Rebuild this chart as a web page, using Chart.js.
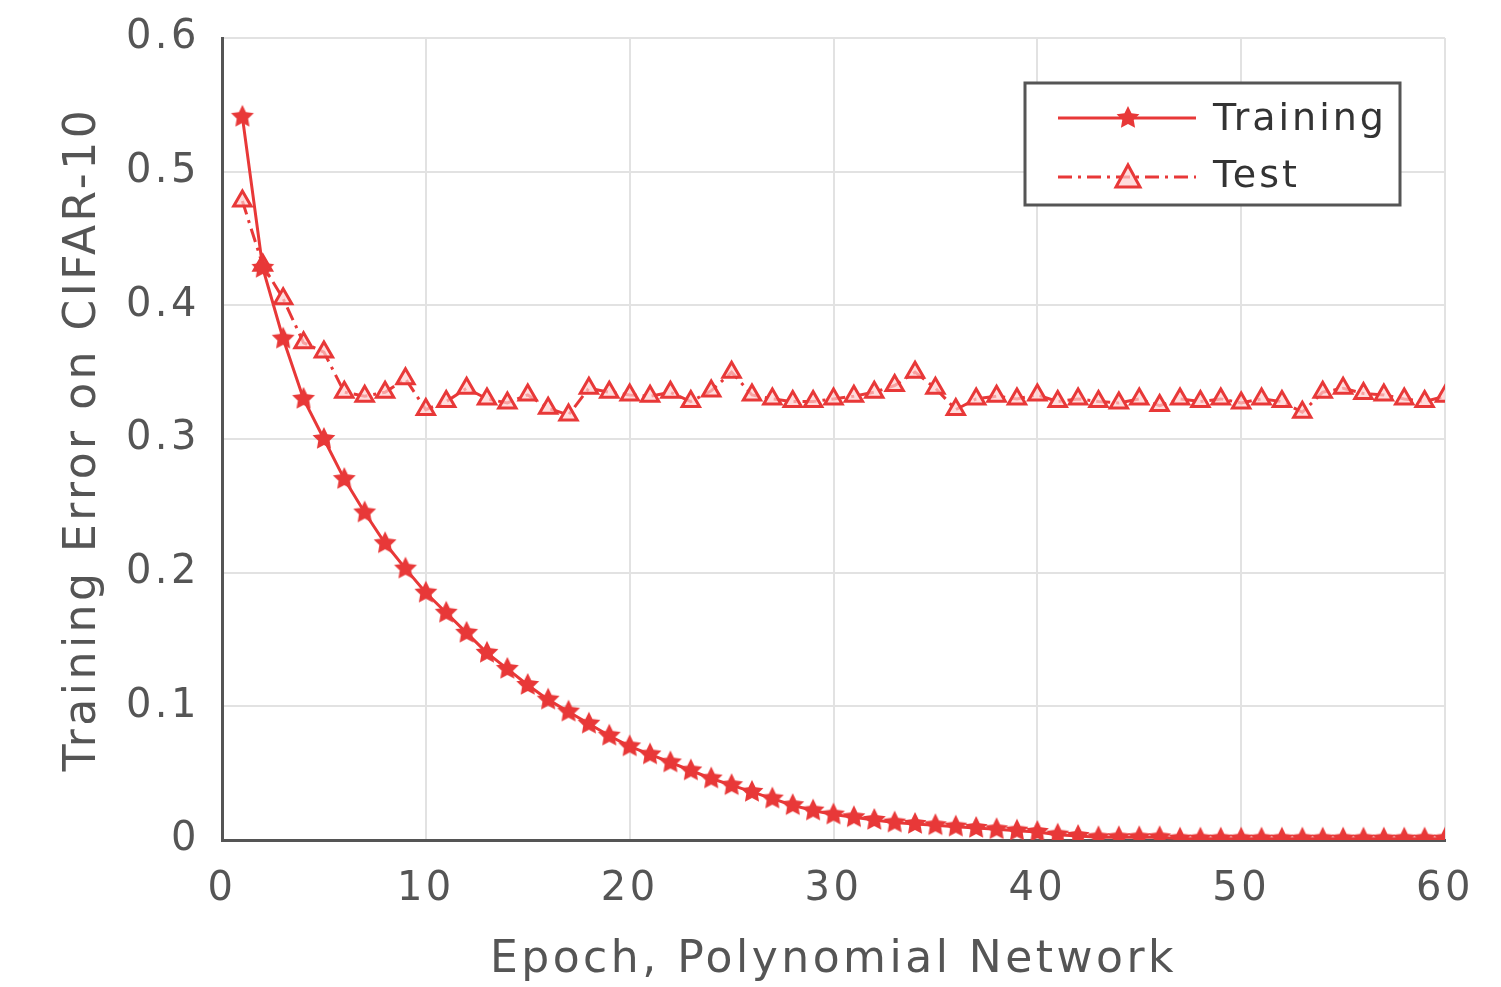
<!DOCTYPE html>
<html>
<head>
<meta charset="utf-8">
<script src="https://cdn.jsdelivr.net/npm/chart.js@4.4.0/dist/chart.umd.min.js"></script>
<style>
  html, body { margin: 0; padding: 0; background: #fff; }
  #wrap { width: 1501px; height: 987px; position: relative; }
</style>
</head>
<body>
<div id="wrap"><canvas id="errChart"></canvas></div>
<script>
// data
var epochs = [];
for (var i = 1; i <= 60; i++) epochs.push(i);

var training = [0.541, 0.428, 0.375, 0.330, 0.300, 0.270, 0.245, 0.222, 0.203, 0.185,
                0.170, 0.155, 0.140, 0.128, 0.116, 0.105, 0.096, 0.087, 0.078, 0.070,
                0.064, 0.058, 0.052, 0.046, 0.041, 0.036, 0.031, 0.026, 0.022, 0.019,
                0.017, 0.015, 0.013, 0.012, 0.011, 0.010, 0.009, 0.008, 0.007, 0.006,
                0.004, 0.003, 0.002, 0.002, 0.002, 0.002, 0.001, 0.001, 0.001, 0.001,
                0.001, 0.001, 0.001, 0.001, 0.001, 0.001, 0.001, 0.001, 0.001, 0.001];

var test = [0.478, 0.430, 0.405, 0.372, 0.365, 0.335, 0.332, 0.335, 0.345, 0.322,
            0.328, 0.338, 0.330, 0.327, 0.333, 0.323, 0.318, 0.338, 0.335, 0.333,
            0.332, 0.335, 0.328, 0.336, 0.350, 0.333, 0.330, 0.328, 0.328, 0.330,
            0.332, 0.335, 0.340, 0.350, 0.338, 0.322, 0.330, 0.332, 0.330, 0.333,
            0.328, 0.330, 0.328, 0.327, 0.330, 0.325, 0.330, 0.328, 0.330, 0.327,
            0.330, 0.328, 0.320, 0.335, 0.338, 0.334, 0.333, 0.330, 0.328, 0.332];

var seriesNames = ["Training", "Test"];
var xTicks = [0, 10, 20, 30, 40, 50, 60];
var yTicks = [0, 0.1, 0.2, 0.3, 0.4, 0.5, 0.6];

var red = "rgb(232, 56, 56)";
var testFill = "rgba(255,205,205,0.7)";
var fontFam = "'DejaVu Sans', sans-serif";

// filled five point star used as point style
function makeStar(size) {
    var c = document.createElement("canvas");
    c.width = size; c.height = size;
    var g = c.getContext("2d");
    var cx = size / 2, cy = size / 2, ro = size / 2 - 1, ri = ro * 0.5;
    g.beginPath();
    for (var k = 0; k < 10; k++) {
        var r = k % 2 == 0 ? ro : ri;
        var a = -Math.PI / 2 + k * Math.PI / 5;
        g.lineTo(cx + r * Math.cos(a), cy + r * Math.sin(a));
    }
    g.closePath();
    g.fillStyle = red;
    g.fill();
    return c;
}
var star = makeStar(26);

// the original text is spaced wider than DejaVu
var wideText = {
    id: "wideText",
    beforeDraw: function(chart) { chart.ctx.letterSpacing = "3.5px"; }
};

// legend box drawn inside the plot, like the original
var legendBox = {
    id: "legendBox",
    afterDraw: function(chart) {
        var ctx = chart.ctx;
        ctx.save();
        ctx.fillStyle = "#fff";
        ctx.fillRect(1025, 83, 375, 122);
        ctx.strokeStyle = "#555";
        ctx.lineWidth = 3;
        ctx.strokeRect(1025, 83, 375, 122);

        ctx.strokeStyle = red;
        ctx.lineWidth = 3;
        ctx.beginPath();
        ctx.moveTo(1058, 118); ctx.lineTo(1196, 118);
        ctx.stroke();
        ctx.drawImage(star, 1115, 105);

        ctx.setLineDash([14, 6, 3, 6]);
        ctx.beginPath();
        ctx.moveTo(1058, 177); ctx.lineTo(1196, 177);
        ctx.stroke();
        ctx.setLineDash([]);
        ctx.fillStyle = testFill;
        ctx.beginPath();
        ctx.moveTo(1128, 165); ctx.lineTo(1140, 187); ctx.lineTo(1116, 187);
        ctx.closePath();
        ctx.fill(); ctx.stroke();

        ctx.letterSpacing = "3px";
        ctx.fillStyle = "#333";
        ctx.font = "38px " + fontFam;
        ctx.textBaseline = "middle";
        ctx.fillText(seriesNames[0], 1213, 120);
        ctx.fillText(seriesNames[1], 1213, 177);
        ctx.restore();
    }
};

var chart = new Chart(document.getElementById("errChart"), {
    type: "line",
    data: {
        datasets: [{
            label: seriesNames[0],
            data: epochs.map(function(e, i) { return {x: e, y: training[i]}; }),
            borderColor: red,
            backgroundColor: red,
            borderWidth: 3,
            pointStyle: star,
            pointRadius: 11,
            tension: 0
        }, {
            label: seriesNames[1],
            data: epochs.map(function(e, i) { return {x: e, y: test[i]}; }),
            borderColor: red,
            backgroundColor: testFill,
            borderWidth: 3,
            borderDash: [14, 6, 3, 6],
            pointStyle: "triangle",
            pointRadius: 10,
            pointBorderWidth: 3,
            tension: 0
        }]
    },
    options: {
        responsive: true,
        maintainAspectRatio: false,
        animation: false,
        layout: { padding: { top: 38, right: 56, left: 0, bottom: 0 } },
        plugins: { legend: { display: false }, tooltip: { enabled: false } },
        scales: {
            x: {
                type: "linear",
                min: 0, max: 60,
                afterBuildTicks: function(s) { s.ticks = xTicks.map(function(v) { return {value: v}; }); },
                afterFit: function(s) { s.height = 147; s.paddingLeft = 0; s.paddingRight = 0; },
                grid: { color: "#e2e2e2", lineWidth: 2, drawTicks: false },
                border: { color: "#555", width: 3 },
                ticks: { color: "#555", padding: 26, font: { size: 40, family: fontFam } },
                title: { display: true, text: "Epoch, Polynomial Network", color: "#555",
                         font: { size: 44, family: fontFam }, padding: { top: 0, bottom: 0 } }
            },
            y: {
                min: 0, max: 0.6,
                afterBuildTicks: function(s) { s.ticks = yTicks.map(function(v) { return {value: v}; }); },
                afterFit: function(s) { s.width = 222; s.paddingTop = 0; s.paddingBottom = 0; },
                grid: { color: "#e2e2e2", lineWidth: 2, drawTicks: false },
                border: { color: "#555", width: 3 },
                ticks: { color: "#555", padding: 22, font: { size: 40, family: fontFam },
                         callback: function(v) { return v == 0 ? "0" : v.toFixed(1); } },
                title: { display: true, text: "Training Error on CIFAR-10", color: "#555",
                         font: { size: 44, family: fontFam }, padding: { top: 57, bottom: 0 } }
            }
        }
    },
    plugins: [wideText, legendBox]
});
</script>
</body>
</html>
